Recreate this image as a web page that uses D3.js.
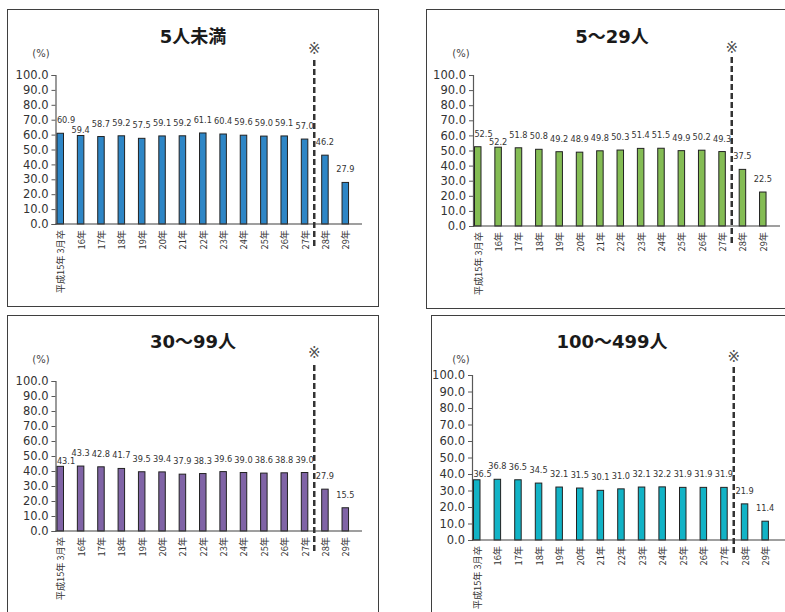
<!DOCTYPE html>
<html lang="ja">
<head>
<meta charset="utf-8">
<script src="https://cdn.jsdelivr.net/npm/d3@7"></script>
<style>
  html, body { margin: 0; padding: 0; background: #fff; }
  svg { display: block; }
  text { font-family: "DejaVu Sans", "Noto Sans CJK JP", sans-serif; }
</style>
</head>
<body>
<svg id="chart" width="785" height="612"></svg>
<script>
// Categories (graduation year)
const categories = ["平成15年 3月卒", "16年", "17年", "18年", "19年", "20年", "21年",
  "22年", "23年", "24年", "25年", "26年", "27年", "28年", "29年"];

// Panel titles (establishment size)
const titles = ["5人未満", "5〜29人", "30〜99人", "100〜499人"];

// Percentages for each size class
const under5 = [60.9, 59.4, 58.7, 59.2, 57.5, 59.1, 59.2, 61.1, 60.4, 59.6, 59.0, 59.1, 57.0, 46.2, 27.9];
const size5to29 = [52.5, 52.2, 51.8, 50.8, 49.2, 48.9, 49.8, 50.3, 51.4, 51.5, 49.9, 50.2, 49.3, 37.5, 22.5];
const size30to99 = [43.1, 43.3, 42.8, 41.7, 39.5, 39.4, 37.9, 38.3, 39.6, 39.0, 38.6, 38.8, 39.0, 27.9, 15.5];
const size100to499 = [36.5, 36.8, 36.5, 34.5, 32.1, 31.5, 30.1, 31.0, 32.1, 32.2, 31.9, 31.9, 31.9, 21.9, 11.4];

// Y axis ticks
const yTicks = [0, 10, 20, 30, 40, 50, 60, 70, 80, 90, 100];

// Index of the first category after the break marker
const breakIndex = 13;

const svg = d3.select("#chart");

// Layout of each panel
const panels = [
  { title: titles[0], values: under5, color: "#2E86C6",
    box: [7.5, 9.5, 371, 297], titleX: 193, titleY: 43, unitX: 41, unitY: 57,
    axisX: 55.5, top: 75, bottom: 224, step: 20.36, axisEnd: 362, dashTop: 60, dashBottom: 248, markY: 49 },
  { title: titles[1], values: size5to29, color: "#84BC54",
    box: [426.5, 9.5, 370, 299], titleX: 612, titleY: 43, unitX: 461, unitY: 57,
    axisX: 473, top: 75, bottom: 226, step: 20.36, axisEnd: 780, dashTop: 57, dashBottom: 245, markY: 48 },
  { title: titles[2], values: size30to99, color: "#8064A6",
    box: [7.5, 315.5, 371, 310], titleX: 193, titleY: 348, unitX: 41, unitY: 363,
    axisX: 55.5, top: 381, bottom: 531, step: 20.36, axisEnd: 362, dashTop: 365, dashBottom: 553, markY: 353 },
  { title: titles[3], values: size100to499, color: "#12B3C6",
    box: [431.5, 315.5, 370, 310], titleX: 612, titleY: 348, unitX: 461, unitY: 363,
    axisX: 472, top: 375, bottom: 540, step: 20.6, axisEnd: 786, dashTop: 367, dashBottom: 555, markY: 357 }
];

const barOffset = 1.5;
const barWidth = 6.5;
const labelGap = 10;      // baseline distance above bar top
const labelHalfW = 9;     // approx. half width of a value label

panels.forEach(p => {
  const g = svg.append("g");

  // Frame
  g.append("rect")
    .attr("x", p.box[0]).attr("y", p.box[1])
    .attr("width", p.box[2]).attr("height", p.box[3])
    .attr("fill", "none").attr("stroke", "#3f3f3f").attr("stroke-width", 1);

  // Title
  g.append("text")
    .attr("x", p.titleX).attr("y", p.titleY)
    .attr("text-anchor", "middle")
    .attr("font-size", 18).attr("font-weight", "bold")
    .attr("fill", "#1a1a1a")
    .style("font-family", "'DejaVu Sans', 'Noto Sans CJK JP', sans-serif")
    .text(p.title);

  // Unit label
  g.append("text")
    .attr("x", p.unitX).attr("y", p.unitY)
    .attr("text-anchor", "middle")
    .attr("font-size", 10).attr("fill", "#444")
    .text("(%)");

  const x = d3.scaleBand()
    .domain(categories)
    .range([p.axisX, p.axisX + p.step * categories.length])
    .paddingInner(0).paddingOuter(0);

  const y = d3.scaleLinear().domain([0, 100]).range([p.bottom, p.top]);

  // Y axis
  const yAxis = g.append("g")
    .attr("transform", `translate(${p.axisX},0)`)
    .call(d3.axisLeft(y).tickValues(yTicks).tickFormat(d3.format(".1f")).tickSize(4).tickPadding(3));
  yAxis.select(".domain").attr("stroke", "#595959").attr("stroke-width", 1.2);
  yAxis.selectAll(".tick line").attr("stroke", "#595959");
  yAxis.selectAll(".tick text")
    .attr("font-size", 11.5).attr("fill", "#333")
    .style("font-family", "'DejaVu Sans', sans-serif");

  // Bars
  g.selectAll("rect.bar")
    .data(p.values)
    .join("rect")
    .attr("class", "bar")
    .attr("x", (d, i) => x(categories[i]) + barOffset)
    .attr("y", d => y(d))
    .attr("width", barWidth)
    .attr("height", d => y(0) - y(d))
    .attr("fill", p.color)
    .attr("stroke", "#222")
    .attr("stroke-width", 1);

  // X axis baseline
  g.append("line")
    .attr("x1", p.axisX).attr("x2", p.axisEnd)
    .attr("y1", y(0)).attr("y2", y(0))
    .attr("stroke", "#404040").attr("stroke-width", 1.2);

  // Value label placement: above each bar, kept clear of the axis;
  // when two neighbours collide, the shorter bar's label drops to sit on its bar.
  const labels = p.values.map((v, i) => ({
    v,
    x: Math.max(x(categories[i]) + barOffset + barWidth / 2, p.axisX + labelHalfW + 1.5),
    y: y(v) - labelGap
  }));
  for (let i = 1; i < labels.length; i++) {
    const a = labels[i - 1], b = labels[i];
    if (b.x - a.x < labelHalfW * 2 && Math.abs(a.y - b.y) < 9) {
      const low = a.v < b.v ? a : b;
      low.y = y(low.v) - 2.5;
    }
  }

  g.selectAll("text.val")
    .data(labels)
    .join("text")
    .attr("class", "val")
    .attr("x", d => d.x)
    .attr("y", d => d.y)
    .attr("text-anchor", "middle")
    .attr("font-size", 8.2).attr("fill", "#333")
    .text(d => d.v.toFixed(1));

  // Category labels (vertical)
  g.selectAll("text.cat")
    .data(categories)
    .join("text")
    .attr("class", "cat")
    .attr("transform", d => `translate(${x(d) + barOffset + barWidth / 2},${y(0) + 6}) rotate(-90)`)
    .attr("text-anchor", "end")
    .attr("dominant-baseline", "central")
    .attr("font-size", 9.2).attr("fill", "#333")
    .style("font-family", "'Noto Sans CJK JP', sans-serif")
    .text(d => d);

  // Break marker between 27年 and 28年
  const prevRight = x(categories[breakIndex - 1]) + barOffset + barWidth;
  const nextLeft = x(categories[breakIndex]) + barOffset;
  const dashX = (prevRight + nextLeft) / 2 - 0.5;
  g.append("line")
    .attr("x1", dashX).attr("x2", dashX)
    .attr("y1", p.dashTop).attr("y2", p.dashBottom)
    .attr("stroke", "#333").attr("stroke-width", 2.5)
    .attr("stroke-dasharray", "6,3");
  g.append("text")
    .attr("x", dashX).attr("y", p.markY)
    .attr("text-anchor", "middle")
    .attr("dominant-baseline", "central")
    .attr("font-size", 15).attr("fill", "#555")
    .style("font-family", "'DejaVu Sans', sans-serif")
    .text("※");
});
</script>
</body>
</html>
